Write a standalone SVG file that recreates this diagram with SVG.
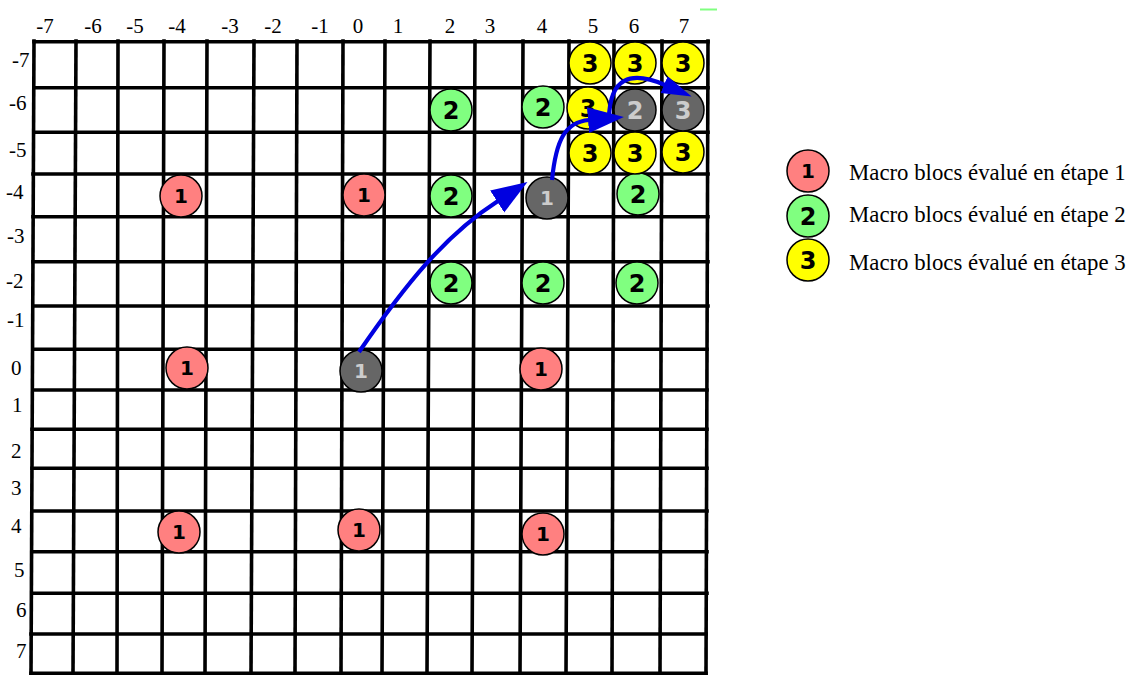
<svg xmlns="http://www.w3.org/2000/svg" width="1135" height="675" viewBox="0 0 1135 675">
<defs>
<style>
.grid line{stroke:#000;stroke-width:3.6;stroke-linecap:square}
.lbl{font-family:"Liberation Serif","Times New Roman",serif;font-size:21px;fill:#000}
.col{text-anchor:middle}
.leg{font-family:"Liberation Serif","Times New Roman",serif;font-size:22.8px;fill:#000}
.n circle{stroke:#000;stroke-width:1.5}
.n text{font-family:"DejaVu Sans",Verdana,sans-serif;font-weight:bold;text-anchor:middle}
.s1 circle{fill:#ff8080}
.s2 circle{fill:#80ff80}
.s3 circle{fill:#ffff00}
.g circle{fill:#666666}
.n text{fill:#000}
.g text{fill:#cccccc}
.one text{font-size:20px}
.two text{font-size:24px}
.arr{fill:none;stroke:#0000e0;stroke-width:4.2}
</style>
<marker id="head" markerUnits="userSpaceOnUse" markerWidth="40" markerHeight="28" refX="1" refY="13" orient="auto" viewBox="0 0 40 28">
<path d="M0,0 L36,13 L0,26 Z" fill="#0000e0"/>
</marker>
<marker id="headS" markerUnits="userSpaceOnUse" markerWidth="34" markerHeight="22" refX="1" refY="9" orient="auto" viewBox="0 0 34 22">
<path d="M0,0 L30,9 L0,18 Z" fill="#0000e0"/>
</marker>
</defs>
<rect width="1135" height="675" fill="#fff"/>
<g id="grid" class="grid">
<line x1="34" y1="41" x2="31" y2="674"/>
<line x1="76" y1="41" x2="73" y2="674"/>
<line x1="118" y1="41" x2="117" y2="674"/>
<line x1="164" y1="41" x2="162" y2="674"/>
<line x1="207" y1="41" x2="205" y2="674"/>
<line x1="254" y1="41" x2="251" y2="674"/>
<line x1="297" y1="41" x2="295" y2="674"/>
<line x1="343" y1="41" x2="341" y2="674"/>
<line x1="385" y1="41" x2="382" y2="674"/>
<line x1="430" y1="41" x2="427" y2="674"/>
<line x1="475" y1="41" x2="472" y2="674"/>
<line x1="523" y1="41" x2="520" y2="674"/>
<line x1="569" y1="41" x2="566" y2="674"/>
<line x1="614" y1="41" x2="612" y2="674"/>
<line x1="662" y1="41" x2="660" y2="674"/>
<line x1="708" y1="41" x2="706" y2="674"/>
<line x1="34" y1="41.7" x2="708" y2="41.7"/>
<line x1="34" y1="87.7" x2="708" y2="87.7"/>
<line x1="34" y1="132.3" x2="708" y2="132.3"/>
<line x1="33" y1="174" x2="708" y2="174"/>
<line x1="33" y1="216.7" x2="708" y2="216.7"/>
<line x1="33" y1="261.7" x2="708" y2="261.7"/>
<line x1="33" y1="306" x2="708" y2="306"/>
<line x1="33" y1="349.3" x2="707" y2="349.3"/>
<line x1="33" y1="390" x2="707" y2="390"/>
<line x1="32" y1="429.3" x2="707" y2="429.3"/>
<line x1="32" y1="468.3" x2="707" y2="468.3"/>
<line x1="32" y1="511" x2="707" y2="511"/>
<line x1="32" y1="551.7" x2="707" y2="551.7"/>
<line x1="32" y1="593.3" x2="707" y2="593.3"/>
<line x1="31" y1="634" x2="706" y2="634"/>
<line x1="31" y1="673.3" x2="706" y2="673.3"/>
</g>
<line x1="700" y1="9.5" x2="717" y2="9.5" stroke="#80ff80" stroke-width="2"/>
<g id="col-labels" class="lbl col">
<text x="45" y="33">-7</text>
<text x="93" y="33">-6</text>
<text x="135" y="33">-5</text>
<text x="177" y="33">-4</text>
<text x="230" y="33">-3</text>
<text x="273" y="33">-2</text>
<text x="320" y="33">-1</text>
<text x="358" y="33">0</text>
<text x="398" y="33">1</text>
<text x="450" y="33">2</text>
<text x="490" y="33">3</text>
<text x="542" y="33">4</text>
<text x="593" y="33">5</text>
<text x="634" y="33">6</text>
<text x="684" y="33">7</text>
</g>
<g id="row-labels" class="lbl">
<text x="12" y="67">-7</text>
<text x="9" y="110">-6</text>
<text x="9" y="157">-5</text>
<text x="6" y="199">-4</text>
<text x="7" y="243">-3</text>
<text x="6" y="288">-2</text>
<text x="7" y="327">-1</text>
<text x="11" y="375">0</text>
<text x="12" y="412">1</text>
<text x="11" y="458">2</text>
<text x="11" y="495">3</text>
<text x="11" y="533">4</text>
<text x="14" y="577">5</text>
<text x="16" y="617">6</text>
<text x="16" y="658">7</text>
</g>
<g id="r1" class="n s1 one"><circle cx="181" cy="196" r="21"/><text x="181" y="203">1</text></g>
<g id="r2" class="n s1 one"><circle cx="364" cy="195" r="21"/><text x="364" y="202">1</text></g>
<g id="r3" class="n s1 one"><circle cx="187" cy="368" r="21"/><text x="187" y="375">1</text></g>
<g id="r4" class="n s1 one"><circle cx="541" cy="369" r="21"/><text x="541" y="376">1</text></g>
<g id="r5" class="n s1 one"><circle cx="179" cy="532" r="21"/><text x="179" y="539">1</text></g>
<g id="r6" class="n s1 one"><circle cx="359" cy="530" r="21"/><text x="359" y="537">1</text></g>
<g id="r7" class="n s1 one"><circle cx="543" cy="534" r="21"/><text x="543" y="541">1</text></g>
<g id="gr1" class="n s2 two"><circle cx="451" cy="110" r="21"/><text x="451" y="118.5">2</text></g>
<g id="gr2" class="n s2 two"><circle cx="543" cy="107" r="21"/><text x="543" y="115.5">2</text></g>
<g id="gr3" class="n s2 two"><circle cx="451" cy="196" r="21"/><text x="451" y="204.5">2</text></g>
<g id="gr4" class="n s2 two"><circle cx="451" cy="283" r="21"/><text x="451" y="291.5">2</text></g>
<g id="gr5" class="n s2 two"><circle cx="543" cy="283" r="21"/><text x="543" y="291.5">2</text></g>
<g id="gr6" class="n s2 two"><circle cx="638" cy="194" r="21"/><text x="638" y="202.5">2</text></g>
<g id="gr7" class="n s2 two"><circle cx="637" cy="283" r="21"/><text x="637" y="291.5">2</text></g>
<g id="y1" class="n s3 two"><circle cx="590" cy="63" r="21"/><text x="590" y="71.5">3</text></g>
<g id="y2" class="n s3 two"><circle cx="635" cy="63" r="21"/><text x="635" y="71.5">3</text></g>
<g id="y3" class="n s3 two"><circle cx="683" cy="63" r="21"/><text x="683" y="71.5">3</text></g>
<g id="y4" class="n s3 two"><circle cx="588" cy="108" r="21"/><text x="588" y="116.5">3</text></g>
<g id="y5" class="n s3 two"><circle cx="590" cy="153" r="21"/><text x="590" y="161.5">3</text></g>
<g id="y6" class="n s3 two"><circle cx="635" cy="153" r="21"/><text x="635" y="161.5">3</text></g>
<g id="y7" class="n s3 two"><circle cx="683" cy="152" r="21"/><text x="683" y="160.5">3</text></g>
<g id="k1" class="n g one"><circle cx="361" cy="371" r="21"/><text x="361" y="378">1</text></g>
<g id="k2" class="n g one"><circle cx="547" cy="198" r="21"/><text x="547" y="205">1</text></g>
<g id="k3" class="n g two"><circle cx="635" cy="110" r="21"/><text x="635" y="118.5">2</text></g>
<g id="k4" class="n g two"><circle cx="683" cy="110" r="21"/><text x="683" y="118.5">3</text></g>
<g id="connectors">
<path class="arr" d="M359,352 C405,285 445,235 498,201" marker-end="url(#head)"/>
<path class="arr" d="M552,180 C556,140 565,122 589,120" marker-end="url(#head)"/>
<path class="arr" d="M609,118 C610,78 630,70 665,85" marker-end="url(#headS)"/>
</g>
<g id="legend">
<g id="leg1" class="n s1 one"><circle cx="808" cy="171" r="21"/><text x="808" y="178">1</text></g>
<g id="leg2" class="n s2 two"><circle cx="808" cy="216" r="21"/><text x="808" y="224.5">2</text></g>
<g id="leg3" class="n s3 two"><circle cx="808" cy="260" r="21"/><text x="808" y="268.5">3</text></g>
<text class="leg" x="849" y="180">Macro blocs évalué en étape 1</text>
<text class="leg" x="849" y="222">Macro blocs évalué en étape 2</text>
<text class="leg" x="849" y="270">Macro blocs évalué en étape 3</text>
</g>
</svg>
